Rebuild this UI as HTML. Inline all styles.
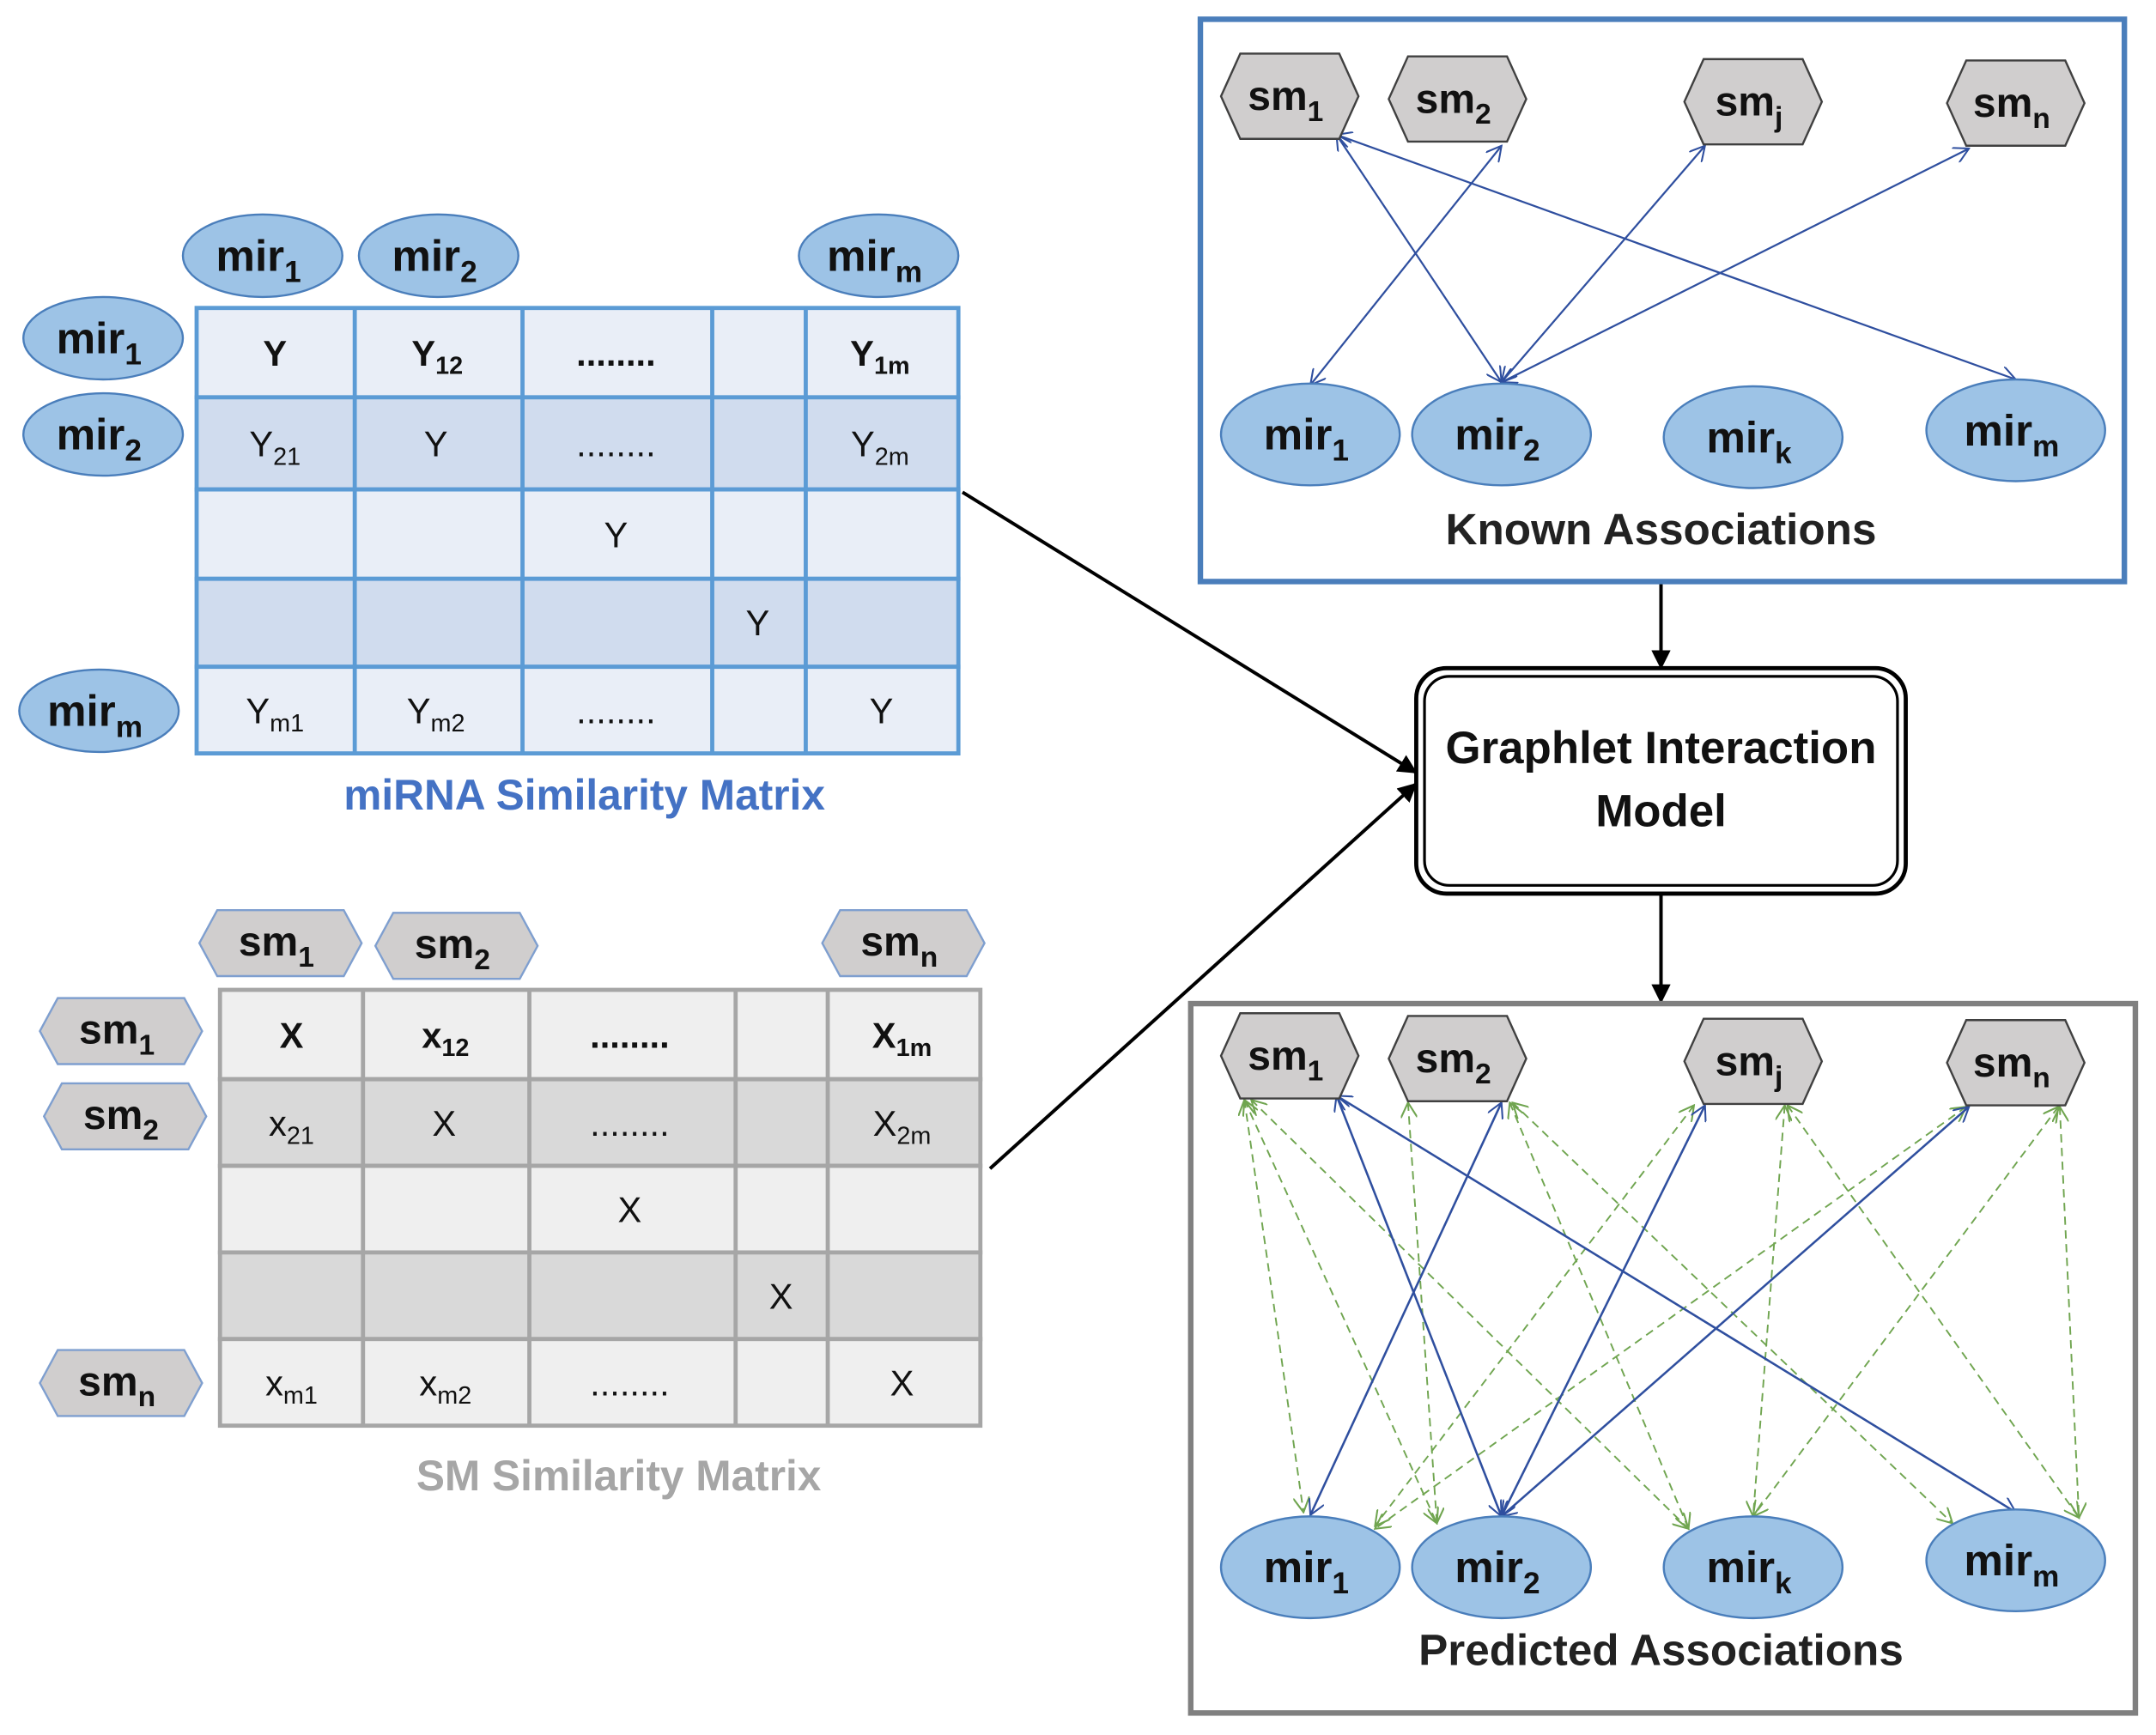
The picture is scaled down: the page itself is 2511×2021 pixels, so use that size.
<!DOCTYPE html>
<html><head><meta charset="utf-8"><style>
html,body{margin:0;padding:0;background:#fff;}
svg{display:block;}
text{font-family:"Liberation Sans Narrow","Liberation Sans",sans-serif;}
</style></head><body>
<svg width="2511" height="2021" viewBox="0 0 1568 1262" xmlns="http://www.w3.org/2000/svg">
<defs>
<marker id="ab" markerWidth="12" markerHeight="12" refX="11" refY="6" orient="auto-start-reverse" markerUnits="userSpaceOnUse"><path d="M0,0 L11,6 L0,12" fill="none" stroke="#2f4f9f" stroke-width="1.3"/></marker>
<marker id="ag" markerWidth="12" markerHeight="12" refX="11" refY="6" orient="auto-start-reverse" markerUnits="userSpaceOnUse"><path d="M0,0 L11,6 L0,12" fill="none" stroke="#70a550" stroke-width="1.3"/></marker>
<marker id="ak" markerWidth="14" markerHeight="14" refX="13" refY="7" orient="auto" markerUnits="userSpaceOnUse"><path d="M0,0 L14,7 L0,14 Z" fill="#000"/></marker>
</defs>

<!-- miRNA matrix -->
<g stroke="#5b9bd5" stroke-width="3">
<rect x="143" y="224" width="554" height="65" fill="#e9eef7"/>
<rect x="143" y="289" width="554" height="67" fill="#d0dcee"/>
<rect x="143" y="356" width="554" height="65" fill="#e9eef7"/>
<rect x="143" y="421" width="554" height="64" fill="#d0dcee"/>
<rect x="143" y="485" width="554" height="63" fill="#e9eef7"/>
<line x1="258" y1="224" x2="258" y2="548"/><line x1="380" y1="224" x2="380" y2="548"/>
<line x1="518" y1="224" x2="518" y2="548"/><line x1="586" y1="224" x2="586" y2="548"/>
</g>
<g font-size="26" text-anchor="middle" fill="#111">
<text x="200" y="266" font-weight="bold">Y</text>
<text x="318" y="266" font-weight="bold">Y<tspan font-size="18" dy="6">12</tspan></text>
<text x="448" y="266" font-weight="bold">........</text>
<text x="640" y="266" font-weight="bold">Y<tspan font-size="18" dy="6">1m</tspan></text>
<text x="200" y="332">Y<tspan font-size="18" dy="6">21</tspan></text>
<text x="317" y="332">Y</text>
<text x="448" y="332">........</text>
<text x="640" y="332">Y<tspan font-size="18" dy="6">2m</tspan></text>
<text x="448" y="398">Y</text>
<text x="551" y="462">Y</text>
<text x="200" y="526">Y<tspan font-size="18" dy="6">m1</tspan></text>
<text x="317" y="526">Y<tspan font-size="18" dy="6">m2</tspan></text>
<text x="448" y="526">........</text>
<text x="641" y="526">Y</text>
</g>
<g fill="#9dc3e6" stroke="#4a7ebb" stroke-width="1.5">
<ellipse cx="191" cy="186" rx="58" ry="30"/><ellipse cx="319" cy="186" rx="58" ry="30"/><ellipse cx="639" cy="186" rx="58" ry="30"/>
<ellipse cx="75" cy="246" rx="58" ry="30"/><ellipse cx="75" cy="316" rx="58" ry="30"/><ellipse cx="72" cy="517" rx="58" ry="30"/>
</g>
<g font-size="32" font-weight="bold" text-anchor="middle" fill="#111">
<text x="188" y="197">mir<tspan font-size="22" dy="8">1</tspan></text>
<text x="316" y="197">mir<tspan font-size="22" dy="8">2</tspan></text>
<text x="636" y="197">mir<tspan font-size="22" dy="8">m</tspan></text>
<text x="72" y="257">mir<tspan font-size="22" dy="8">1</tspan></text>
<text x="72" y="327">mir<tspan font-size="22" dy="8">2</tspan></text>
<text x="69" y="528">mir<tspan font-size="22" dy="8">m</tspan></text>
</g>
<text x="425" y="589" font-size="31" font-weight="bold" fill="#4472c4" text-anchor="middle">miRNA Similarity Matrix</text>

<!-- SM matrix -->
<g stroke="#a6a6a6" stroke-width="3">
<rect x="160" y="720" width="553" height="65" fill="#efefef"/>
<rect x="160" y="785" width="553" height="63" fill="#d9d9d9"/>
<rect x="160" y="848" width="553" height="63" fill="#efefef"/>
<rect x="160" y="911" width="553" height="63" fill="#d9d9d9"/>
<rect x="160" y="974" width="553" height="63" fill="#efefef"/>
<line x1="264" y1="720" x2="264" y2="1037"/><line x1="385" y1="720" x2="385" y2="1037"/>
<line x1="535" y1="720" x2="535" y2="1037"/><line x1="602" y1="720" x2="602" y2="1037"/>
</g>
<g font-size="26" text-anchor="middle" fill="#111">
<text x="212" y="762" font-weight="bold">X</text>
<text x="324" y="762" font-weight="bold">x<tspan font-size="18" dy="6">12</tspan></text>
<text x="458" y="762" font-weight="bold">........</text>
<text x="656" y="762" font-weight="bold">X<tspan font-size="18" dy="6">1m</tspan></text>
<text x="212" y="826">x<tspan font-size="18" dy="6">21</tspan></text>
<text x="323" y="826">X</text>
<text x="458" y="826">........</text>
<text x="656" y="826">X<tspan font-size="18" dy="6">2m</tspan></text>
<text x="458" y="889">X</text>
<text x="568" y="952">X</text>
<text x="212" y="1015">x<tspan font-size="18" dy="6">m1</tspan></text>
<text x="324" y="1015">x<tspan font-size="18" dy="6">m2</tspan></text>
<text x="458" y="1015">........</text>
<text x="656" y="1015">X</text>
</g>
<g fill="#d0cece" stroke="#7f9fcf" stroke-width="1.5">
<polygon points="145,686 158,662 250,662 263,686 250,710 158,710"/>
<polygon points="273,688 286,664 378,664 391,688 378,712 286,712"/>
<polygon points="598,686 611,662 703,662 716,686 703,710 611,710"/>
<polygon points="29,750 42,726 134,726 147,750 134,774 42,774"/>
<polygon points="32,812 45,788 137,788 150,812 137,836 45,836"/>
<polygon points="29,1006 42,982 134,982 147,1006 134,1030 42,1030"/>
</g>
<g font-size="30" font-weight="bold" text-anchor="middle" fill="#111">
<text x="201" y="695">sm<tspan font-size="21" dy="8">1</tspan></text>
<text x="329" y="697">sm<tspan font-size="21" dy="8">2</tspan></text>
<text x="654" y="695">sm<tspan font-size="21" dy="8">n</tspan></text>
<text x="85" y="759">sm<tspan font-size="21" dy="8">1</tspan></text>
<text x="88" y="821">sm<tspan font-size="21" dy="8">2</tspan></text>
<text x="85" y="1015">sm<tspan font-size="21" dy="8">n</tspan></text>
</g>
<text x="450" y="1084" font-size="31" font-weight="bold" fill="#a6a6a6" text-anchor="middle">SM Similarity Matrix</text>

<!-- arrows to model -->
<line x1="700" y1="358" x2="1030" y2="562" stroke="#000" stroke-width="2.5" marker-end="url(#ak)"/>
<line x1="720" y1="850" x2="1030" y2="570" stroke="#000" stroke-width="2.5" marker-end="url(#ak)"/>
<line x1="1208" y1="424" x2="1208" y2="486" stroke="#000" stroke-width="2.5" marker-end="url(#ak)"/>
<line x1="1208" y1="651" x2="1208" y2="729" stroke="#000" stroke-width="2.5" marker-end="url(#ak)"/>

<!-- model -->
<rect x="1030" y="486" width="356" height="164" rx="22" fill="#fff" stroke="#000" stroke-width="3"/>
<rect x="1036" y="492" width="344" height="152" rx="18" fill="none" stroke="#000" stroke-width="2"/>
<text x="1208" y="555" font-size="33" font-weight="bold" text-anchor="middle" fill="#111">Graphlet Interaction</text>
<text x="1208" y="601" font-size="33" font-weight="bold" text-anchor="middle" fill="#111">Model</text>

<!-- Known box -->
<rect x="873" y="14" width="672" height="409" fill="#fff" stroke="#4a7ebb" stroke-width="4"/>
<g stroke="#2f4f9f" stroke-width="1.4" fill="none" marker-start="url(#ab)" marker-end="url(#ab)">
<line x1="972" y1="98" x2="1092" y2="278"/>
<line x1="972" y1="98" x2="1466" y2="276"/>
<line x1="1092" y1="106" x2="953" y2="280"/>
<line x1="1240" y1="106" x2="1092" y2="278"/>
<line x1="1432" y1="108" x2="1092" y2="278"/>
</g>
<g fill="#d0cece" stroke="#404040" stroke-width="1.5">
<polygon points="888,70 902,39 974,39 988,70 974,101 902,101"/>
<polygon points="1010,72 1024,41 1096,41 1110,72 1096,103 1024,103"/>
<polygon points="1225,74 1239,43 1311,43 1325,74 1311,105 1239,105"/>
<polygon points="1416,75 1430,44 1502,44 1516,75 1502,106 1430,106"/>
</g>
<g fill="#9dc3e6" stroke="#4a7ebb" stroke-width="1.5">
<ellipse cx="953" cy="316" rx="65" ry="37"/><ellipse cx="1092" cy="316" rx="65" ry="37"/>
<ellipse cx="1275" cy="318" rx="65" ry="37"/><ellipse cx="1466" cy="313" rx="65" ry="37"/>
</g>
<g font-size="30" font-weight="bold" text-anchor="middle" fill="#111">
<text x="935" y="80">sm<tspan font-size="21" dy="8">1</tspan></text>
<text x="1057" y="82">sm<tspan font-size="21" dy="8">2</tspan></text>
<text x="1272" y="84">sm<tspan font-size="21" dy="8">j</tspan></text>
<text x="1463" y="85">sm<tspan font-size="21" dy="8">n</tspan></text>
</g>
<g font-size="32" font-weight="bold" text-anchor="middle" fill="#111">
<text x="950" y="327">mir<tspan font-size="22" dy="8">1</tspan></text>
<text x="1089" y="327">mir<tspan font-size="22" dy="8">2</tspan></text>
<text x="1272" y="329">mir<tspan font-size="22" dy="8">k</tspan></text>
<text x="1463" y="324">mir<tspan font-size="22" dy="8">m</tspan></text>
</g>
<text x="1208" y="396" font-size="32" font-weight="bold" text-anchor="middle" fill="#222">Known Associations</text>

<!-- Predicted box -->
<rect x="866" y="730" width="687" height="516" fill="#fff" stroke="#808080" stroke-width="4"/>
<g stroke="#70a550" stroke-width="1.2" stroke-dasharray="6,4" fill="none" marker-start="url(#ag)" marker-end="url(#ag)">
<line x1="905" y1="800" x2="948" y2="1100"/>
<line x1="905" y1="800" x2="1045" y2="1108"/>
<line x1="910" y1="800" x2="1228" y2="1112"/>
<line x1="1024" y1="802" x2="1045" y2="1108"/>
<line x1="1098" y1="802" x2="1228" y2="1112"/>
<line x1="1100" y1="802" x2="1420" y2="1108"/>
<line x1="1232" y1="804" x2="1000" y2="1110"/>
<line x1="1298" y1="804" x2="1275" y2="1103"/>
<line x1="1300" y1="804" x2="1512" y2="1104"/>
<line x1="1430" y1="805" x2="1000" y2="1112"/>
<line x1="1497" y1="805" x2="1275" y2="1103"/>
<line x1="1498" y1="805" x2="1512" y2="1104"/>
</g>
<g stroke="#2f4f9f" stroke-width="1.6" fill="none" marker-start="url(#ab)" marker-end="url(#ab)">
<line x1="972" y1="797" x2="1092" y2="1103"/>
<line x1="972" y1="797" x2="1466" y2="1100"/>
<line x1="1092" y1="802" x2="953" y2="1102"/>
<line x1="1240" y1="804" x2="1092" y2="1103"/>
<line x1="1432" y1="805" x2="1092" y2="1103"/>
</g>
<g fill="#d0cece" stroke="#404040" stroke-width="1.5">
<polygon points="888,768 902,737 974,737 988,768 974,799 902,799"/>
<polygon points="1010,770 1024,739 1096,739 1110,770 1096,801 1024,801"/>
<polygon points="1225,772 1239,741 1311,741 1325,772 1311,803 1239,803"/>
<polygon points="1416,773 1430,742 1502,742 1516,773 1502,804 1430,804"/>
</g>
<g fill="#9dc3e6" stroke="#4a7ebb" stroke-width="1.5">
<ellipse cx="953" cy="1140" rx="65" ry="37"/><ellipse cx="1092" cy="1140" rx="65" ry="37"/>
<ellipse cx="1275" cy="1140" rx="65" ry="37"/><ellipse cx="1466" cy="1135" rx="65" ry="37"/>
</g>
<g font-size="30" font-weight="bold" text-anchor="middle" fill="#111">
<text x="935" y="778">sm<tspan font-size="21" dy="8">1</tspan></text>
<text x="1057" y="780">sm<tspan font-size="21" dy="8">2</tspan></text>
<text x="1272" y="782">sm<tspan font-size="21" dy="8">j</tspan></text>
<text x="1463" y="783">sm<tspan font-size="21" dy="8">n</tspan></text>
</g>
<g font-size="32" font-weight="bold" text-anchor="middle" fill="#111">
<text x="950" y="1151">mir<tspan font-size="22" dy="8">1</tspan></text>
<text x="1089" y="1151">mir<tspan font-size="22" dy="8">2</tspan></text>
<text x="1272" y="1151">mir<tspan font-size="22" dy="8">k</tspan></text>
<text x="1463" y="1146">mir<tspan font-size="22" dy="8">m</tspan></text>
</g>
<text x="1208" y="1211" font-size="32" font-weight="bold" text-anchor="middle" fill="#222">Predicted Associations</text>
</svg>
</body></html>
